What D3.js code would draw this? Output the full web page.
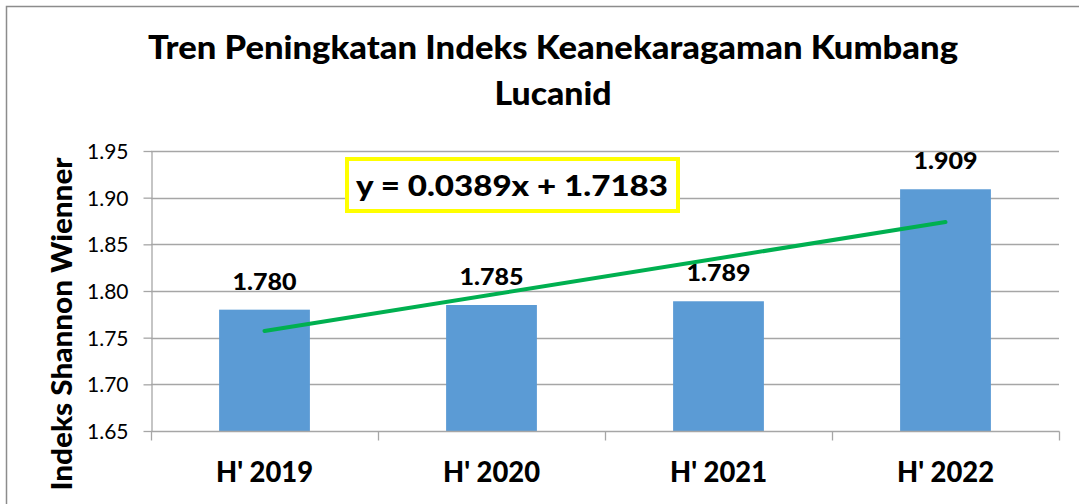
<!DOCTYPE html>
<html>
<head>
<meta charset="utf-8">
<script src="https://cdn.jsdelivr.net/npm/d3@7"></script>
<style>
  body { margin: 0; background: #fff; }
  text { font-family: Lato, "Open Sans", sans-serif; }
</style>
</head>
<body>
<div id="chart"></div>
<script>
// data
var categories = ["H' 2019", "H' 2020", "H' 2021", "H' 2022"];
var values = [1.780, 1.785, 1.789, 1.909];
var yTicks = [1.65, 1.70, 1.75, 1.80, 1.85, 1.90, 1.95];
var trendSlope = 0.0389, trendIntercept = 1.7183;
var titleLines = ["Tren Peningkatan Indeks Keanekaragaman Kumbang", "Lucanid"];

var width = 1079, height = 504;
var margin = { left: 151, right: 20, top: 151, bottom: 73 };

var svg = d3.select('#chart').append('svg')
    .attr('width', width)
    .attr('height', height);

// chart frame (only top/left visible in the source)
svg.append('path')
    .attr('d', 'M6.5,' + height + 'V6.5H' + width)
    .attr('fill', 'none')
    .attr('stroke', '#8c8c8c')
    .attr('stroke-width', 1.5);

var x = d3.scaleBand()
    .domain(categories)
    .range([margin.left, width - margin.right])
    .paddingInner(0.6)
    .paddingOuter(0.3);

var y = d3.scaleLinear()
    .domain([1.65, 1.95])
    .range([height - margin.bottom, margin.top]);

var step = x.step();
var x0 = margin.left, x1 = width - margin.right;

// gridlines
svg.append('g').selectAll('line')
    .data(yTicks.slice(1))
    .enter().append('line')
    .attr('x1', x0).attr('x2', x1)
    .attr('y1', d => Math.round(y(d)) + 0.5).attr('y2', d => Math.round(y(d)) + 0.5)
    .attr('stroke', '#a6a6a6').attr('stroke-width', 1.3);

// y axis
var yAxis = svg.append('g')
    .attr('transform', 'translate(' + (x0 + 0.5) + ',0)')
    .call(d3.axisLeft(y).tickValues(yTicks).tickFormat(d3.format('.2f')).tickSize(8).tickSizeOuter(0));
yAxis.select('.domain').attr('stroke', '#a6a6a6').attr('stroke-width', 1.3);
yAxis.selectAll('.tick line').attr('stroke', '#a6a6a6').attr('stroke-width', 1.3);
yAxis.selectAll('.tick text')
    .attr('x', -23)
    .attr('dy', '0.36em')
    .style('font-size', '21px')
    .style('fill', '#000');

// bars
svg.append('g').selectAll('rect')
    .data(values)
    .enter().append('rect')
    .attr('x', (d, i) => x(categories[i]))
    .attr('y', d => y(d))
    .attr('width', x.bandwidth())
    .attr('height', d => y(1.65) - y(d))
    .attr('fill', '#5b9bd5');

// x axis with ticks on category boundaries
var base = Math.round(y(1.65)) + 0.5;
svg.append('line')
    .attr('x1', x0).attr('x2', x1 + 0.5)
    .attr('y1', base).attr('y2', base)
    .attr('stroke', '#a6a6a6').attr('stroke-width', 1.3);
svg.append('g').selectAll('line')
    .data(d3.range(categories.length + 1))
    .enter().append('line')
    .attr('x1', i => Math.round(x0 + i * step) + 0.5)
    .attr('x2', i => Math.round(x0 + i * step) + 0.5)
    .attr('y1', base).attr('y2', base + 9)
    .attr('stroke', '#a6a6a6').attr('stroke-width', 1.3);

svg.append('g').selectAll('text')
    .data(categories)
    .enter().append('text')
    .attr('x', d => x(d) + x.bandwidth() / 2)
    .attr('y', 482)
    .attr('text-anchor', 'middle')
    .attr('textLength', 97)
    .attr('lengthAdjust', 'spacingAndGlyphs')
    .style('font-size', '28px')
    .style('font-weight', '900')
    .text(d => d);

// data labels
svg.append('g').selectAll('text')
    .data(values)
    .enter().append('text')
    .attr('x', (d, i) => x(categories[i]) + x.bandwidth() / 2)
    .attr('y', d => y(d) - 20)
    .attr('text-anchor', 'middle')
    .attr('textLength', 64)
    .attr('lengthAdjust', 'spacingAndGlyphs')
    .style('font-size', '23px')
    .style('font-weight', '900')
    .text(d => d3.format('.3f')(d));

// linear trendline, x = 1..n
var trend = d3.range(1, categories.length + 1).map(i => [i, trendSlope * i + trendIntercept]);
var line = d3.line()
    .x(d => x(categories[d[0] - 1]) + x.bandwidth() / 2)
    .y(d => y(d[1]));
svg.append('path')
    .datum([trend[0], trend[trend.length - 1]])
    .attr('d', line)
    .attr('fill', 'none')
    .attr('stroke', '#00b050')
    .attr('stroke-width', 4)
    .attr('stroke-linecap', 'round');

// trendline equation box
svg.append('rect')
    .attr('x', 347).attr('y', 159)
    .attr('width', 331).attr('height', 52)
    .attr('fill', '#fff')
    .attr('stroke', '#ffff00')
    .attr('stroke-width', 4);
svg.append('text')
    .attr('x', 512).attr('y', 196)
    .attr('text-anchor', 'middle')
    .attr('textLength', 312)
    .attr('lengthAdjust', 'spacingAndGlyphs')
    .style('font-size', '29px')
    .style('font-weight', '900')
    .text('y = ' + trendSlope.toFixed(4) + 'x + ' + trendIntercept.toFixed(4));

// title
var titleWidths = [810, 117];
svg.append('g').selectAll('text')
    .data(titleLines)
    .enter().append('text')
    .attr('x', 553)
    .attr('y', (d, i) => 59 + i * 46)
    .attr('text-anchor', 'middle')
    .attr('textLength', (d, i) => titleWidths[i])
    .attr('lengthAdjust', 'spacingAndGlyphs')
    .style('font-size', '32px')
    .style('font-weight', '900')
    .text(d => d);

// y axis title
svg.append('text')
    .attr('transform', 'translate(72,324) rotate(-90)')
    .attr('text-anchor', 'middle')
    .attr('textLength', 333)
    .attr('lengthAdjust', 'spacingAndGlyphs')
    .style('font-size', '28px')
    .style('font-weight', '900')
    .text('Indeks Shannon Wienner');
</script>
</body>
</html>
